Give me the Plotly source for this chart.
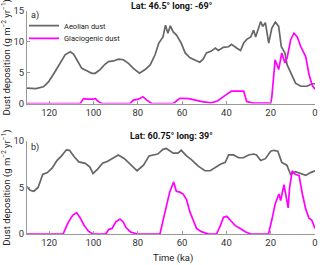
import plotly.graph_objects as go

# Panel a) Lat 46.5 long -69
a_aeol_t = [130, 126, 122.6, 120.3, 117.3, 115, 112.8, 110.5, 109, 107.5, 105.3, 103, 100.8, 99.2, 97, 94.7,
            93.2, 91, 88.7, 86.5, 84.2, 82, 79.2, 76.7, 74.4, 72.2, 70.5,
            68.6, 67.5, 66.4, 65.3, 64, 62.5, 60.4, 58.6, 56.4, 54, 52, 50.5, 49, 46.8, 45, 43.6, 41.4, 39, 37.7,
            35.4, 33.6, 32.2, 30.8, 29, 27.7, 26.8, 24.5, 23.6, 22.4, 20.9, 19.5, 17.9, 16.4, 15.2, 13.6, 12.6,
            10.3, 8.8, 6.4, 3.6, 1.4, 0]
a_aeol_v = [2.5, 2.4, 2.7, 3.5, 5.2, 6.5, 7.9, 8.4, 8.0, 7.1, 5.7, 5.3, 4.9, 4.9, 5.5, 6.4,
            6.8, 6.9, 7.2, 7.1, 6.5, 5.7, 4.9, 5.5, 6.25, 7.9, 9.8,
            10.8, 12.7, 11.4, 12.6, 11.6, 11.1, 9.8, 8.2, 7.4, 7.0, 6.7, 7.2, 8.2, 8.5, 9.0, 8.6, 9.1, 9.2, 9.6,
            9.0, 8.6, 9.8, 10.4, 10.8, 11.9, 10.8, 13.3, 12.5, 13.1, 9.8, 12.2, 13.2, 12.5, 9.2, 8.2, 6.3,
            4.4, 3.3, 2.8, 2.8, 3.2, 3.2]
a_glac_t = [130, 106, 104.5, 103, 100, 99.2, 97.7, 96.2, 83.5, 82, 79.7, 77.7, 75.9, 73.7, 64, 61, 57, 55,
            51, 47, 44, 41, 37.7, 32.2, 30.8, 28, 20, 19.5, 18, 16.4, 15, 13.6, 12.6, 11, 9.5, 8, 6.4, 4.2,
            2.7, 1.2, 0]
a_glac_v = [0, 0, 0.8, 0.7, 0.7, 0.8, 0.3, 0, 0, 0.55, 0.7, 1.1, 0.55, 0, 0, 0.85, 0.8, 0.6,
            0.3, 0.1, 0.4, 1.2, 2.0, 2.0, 0.3, 0.05, 0.05, 1.0, 7.1, 5.5, 8.2, 6.6, 7.4, 10.3, 11.4, 10.8, 9.2, 7.6,
            4.7, 2.9, 2.3]

# Panel b) Lat 60.75 long 39
b_aeol_t = [130, 128.6, 126.9, 125, 122.9, 120.8, 118.6, 116.5, 114.4, 112.2, 110.8, 108.7, 106.6, 103.7,
            101.6, 100.2, 98, 95.9, 93.8, 91.6, 88.8, 86, 83.1, 80.3, 77.4, 74.9, 71,
            68.6, 67.1, 65.6, 64, 61.8, 60.4, 58, 55.8, 52.7, 49.7, 47.3, 45,
            42.7, 40.5, 39, 36.8, 34.5, 32.3, 30, 27.7, 26.4, 24.5, 22.4, 20, 18.6, 16.8, 15, 12.7, 11, 8.8,
            6.4, 4.2, 2, 0]
b_aeol_v = [5.1, 4.7, 4.6, 5.0, 6.4, 6.6, 7.1, 7.9, 8.4, 9.05, 9.0, 8.3, 7.75, 7.6,
            7.2, 6.5, 7.0, 7.6, 7.8, 8.1, 8.5, 8.1, 7.4, 6.8, 7.4, 8.4, 8.6,
            9.1, 9.2, 9.0, 8.7, 8.7, 9.0, 8.4, 8.0, 7.3, 6.8, 6.8, 7.2,
            7.5, 7.7, 8.5, 8.5, 8.2, 8.2, 8.5, 8.6, 8.5, 7.9, 8.1, 8.9, 9.0, 8.9, 7.7, 7.4, 6.4, 6.7,
            6.5, 6.3, 6.6, 6.8]
b_glac_t = [130, 113.7, 111.5, 109.4, 107.6, 105.9, 104.4, 102.3, 100.2, 94.5, 93, 91.6, 89.9, 88, 86.6,
            85.3, 83.1, 80.3, 70, 67.8, 65.6, 63.8, 62.6, 61, 59.5, 58, 56.5, 55, 53.5, 51.3, 48, 44.5, 42.7,
            41.3, 39.8, 38.3, 36, 33.7, 31.5, 29, 21, 19.5, 18, 16.3, 15.5, 14, 13.3, 12.1, 11.5, 10.3, 8.8,
            7.2, 5.7, 4.2, 2.7, 1.5, 0]
b_glac_v = [0, 0, 1.2, 2.0, 2.3, 1.7, 1.0, 0.3, 0, 0, 0.5, 0.6, 1.3, 1.6, 1.3,
            0.7, 0.2, 0, 0, 2.3, 4.5, 5.6, 4.6, 4.5, 4.3, 3.7, 2.4, 1.5, 0.6, 0.25, 0, 0, 0.9,
            1.8, 1.9, 1.5, 0.9, 0.6, 0.25, 0, 0, 1.5, 3.2, 4.3, 3.6, 5.3, 4.3, 2.8, 4.9, 6.8, 6.4,
            6.3, 4.3, 2.7, 1.7, 1.5, 0.6]

x_ticks = [120, 100, 80, 60, 40, 20, 0]
titles = ["Lat: 46.5° long: -69°", "Lat: 60.75° long: 39°"]
series_names = ["Aeolian dust", "Glaciogenic dust"]
ytitle = "Dust deposition (g m<sup>−2</sup> yr<sup>−1</sup>)"
xtitle = "Time (ka)"

GRAY = "#666666"
MAG = "#ff00ff"
FONT = "Roboto"
W, H = 320, 265
ML, MR, MT, MB = 27, 5, 11, 31
PH = H - MT - MB
PW = W - ML - MR


def py(pix):
    """pixel row -> paper y"""
    return (H - MB - pix) / PH


def px(pix):
    """pixel column -> paper x"""
    return (pix - ML) / PW


fig = go.Figure()
fig.add_trace(go.Scatter(x=a_aeol_t, y=a_aeol_v, mode="lines", name=series_names[0], legend="legend",
                         line=dict(color=GRAY, width=1.7), xaxis="x", yaxis="y"))
fig.add_trace(go.Scatter(x=a_glac_t, y=a_glac_v, mode="lines", name=series_names[1], legend="legend2",
                         line=dict(color=MAG, width=1.7), xaxis="x", yaxis="y"))
fig.add_trace(go.Scatter(x=b_aeol_t, y=b_aeol_v, mode="lines", showlegend=False,
                         line=dict(color=GRAY, width=1.7), xaxis="x2", yaxis="y2"))
fig.add_trace(go.Scatter(x=b_glac_t, y=b_glac_v, mode="lines", showlegend=False,
                         line=dict(color=MAG, width=1.7), xaxis="x2", yaxis="y2"))

axis_common = dict(showline=True, linecolor="#999999", linewidth=1, ticks="inside", ticklen=3,
                   tickcolor="#999999", showgrid=False, zeroline=False, automargin=False,
                   ticklabeloverflow="allow",
                   tickfont=dict(family=FONT, size=9.5, color="#333333"))
tfont = dict(family=FONT, size=9.5, color="#222222")
lfont = dict(family=FONT, size=7.5, color="#222222")

top_dom = [py(103.5), 1.0]
bot_dom = [0, py(141)]

fig.update_layout(
    width=W, height=H,
    margin=dict(l=ML, r=MR, t=MT, b=MB),
    paper_bgcolor="white", plot_bgcolor="white",
    font=dict(family=FONT, size=9.5, color="#222222"),
    xaxis=dict(domain=[0, 1], anchor="y", range=[130, 0], tickvals=x_ticks, **axis_common),
    yaxis=dict(domain=top_dom, anchor="x", range=[0, 15], tickvals=[0, 5, 10, 15],
               title=dict(text=ytitle, standoff=3, font=tfont), **axis_common),
    xaxis2=dict(domain=[0, 1], anchor="y2", range=[130, 0], tickvals=x_ticks, **axis_common),
    yaxis2=dict(domain=bot_dom, anchor="x2", range=[0, 10], tickvals=[0, 5, 10],
                title=dict(text=ytitle, standoff=3, font=tfont), **axis_common),
    legend=dict(x=px(24), y=py(25.7), xanchor="left", yanchor="middle", bgcolor="rgba(0,0,0,0)",
                font=lfont, itemwidth=30),
    legend2=dict(x=px(24), y=py(38.3), xanchor="left", yanchor="middle", bgcolor="rgba(0,0,0,0)",
                 font=lfont, itemwidth=30),
    showlegend=True,
    annotations=[
        dict(text="<b>" + titles[0] + "</b>", x=0.5, y=1.0, xref="paper", yref="paper",
             xanchor="center", yanchor="middle", showarrow=False, yshift=5,
             font=dict(family=FONT, size=9, color="#111111")),
        dict(text="<b>" + titles[1] + "</b>", x=0.5, y=bot_dom[1], xref="paper", yref="paper",
             xanchor="center", yanchor="middle", showarrow=False, yshift=5,
             font=dict(family=FONT, size=9, color="#111111")),
        dict(text="a)", x=0.008, y=py(15), xref="paper", yref="paper", xanchor="left", yanchor="middle",
             showarrow=False, font=dict(family=FONT, size=9, color="#222222")),
        dict(text="b)", x=0.008, y=py(147), xref="paper", yref="paper", xanchor="left", yanchor="middle",
             showarrow=False, font=dict(family=FONT, size=9, color="#222222")),
        dict(text=xtitle, x=px(173), y=py(258), xref="paper", yref="paper", xanchor="center",
             yanchor="middle", showarrow=False, font=tfont),
    ],
)

fig.write_html("out.html",
               config={"displayModeBar": False},
               post_script="document.body.style.margin='0';document.body.style.padding='0';"
                           "document.body.style.overflow='hidden';")
